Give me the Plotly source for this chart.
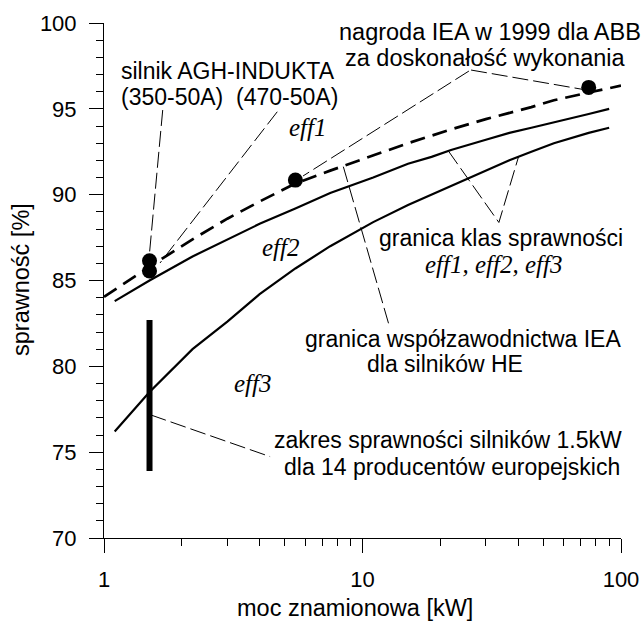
import plotly.graph_objects as go

# ---------------- data ----------------
power_kw = [1.1, 1.5, 2.2, 3, 4, 5.5, 7.5, 11, 15, 18.5, 22, 30, 37, 45, 55, 75, 90]
eff1_limit = [83.8, 85.0, 86.4, 87.4, 88.3, 89.2, 90.1, 91.0, 91.8, 92.2, 92.6, 93.2, 93.6, 93.9, 94.2, 94.7, 95.0]
eff2_limit = [76.2, 78.5, 81.0, 82.6, 84.2, 85.7, 87.0, 88.4, 89.4, 90.0, 90.5, 91.4, 92.0, 92.5, 93.0, 93.6, 93.9]

iea_power = [1, 1.5, 2.2, 3, 4, 5.5, 7.5, 11, 15, 22, 30, 45, 55, 75, 100]
iea_limit = [84.05, 85.8, 87.4, 88.6, 89.6, 90.65, 91.4, 92.3, 93.0, 93.8, 94.4, 95.1, 95.5, 95.95, 96.35]

award_power = [1.5, 1.5, 5.5, 75]
award_eff = [86.15, 85.55, 90.85, 96.25]

range_power = [1.5, 1.5]
range_eff = [73.9, 82.7]

x_ticks = [1, 10, 100]
y_ticks = [70, 75, 80, 85, 90, 95, 100]

# leader lines (from label to the point), data coordinates
leaders = [
    ([1.687, 1.5], [94.93, 86.6]),
    ([4.68, 1.647], [94.83, 86.02]),
    ([25.8, 5.89], [97.2, 91.09]),
    ([26.3, 71.3], [97.26, 96.13]),
    ([21.5, 33.7, 40.2], [92.54, 88.38, 92.24]),
    ([8.43, 12.66], [91.63, 82.41]),
    ([1.516, 4.39], [77.17, 74.74]),
]

SANS = "Arial, 'Liberation Sans', sans-serif"
SERIF = "'Times New Roman', 'Liberation Serif', serif"

fig = go.Figure()

for lx, ly in leaders:
    fig.add_trace(go.Scatter(x=lx, y=ly, mode="lines",
                             line=dict(color="black", width=1, dash="16px,5px"),
                             hoverinfo="skip", showlegend=False))

fig.add_trace(go.Scatter(x=power_kw, y=eff1_limit, mode="lines",
                         line=dict(color="black", width=2.2), showlegend=False))
fig.add_trace(go.Scatter(x=power_kw, y=eff2_limit, mode="lines",
                         line=dict(color="black", width=2.2), showlegend=False))
fig.add_trace(go.Scatter(x=iea_power, y=iea_limit, mode="lines",
                         line=dict(color="black", width=2.7, dash="15px,8px"), showlegend=False))
fig.add_trace(go.Scatter(x=range_power, y=range_eff, mode="lines",
                         line=dict(color="black", width=6), showlegend=False))
fig.add_trace(go.Scatter(x=award_power, y=award_eff, mode="markers",
                         marker=dict(color="black", size=15), showlegend=False))

# plot area in pixels
L, R, T, B = 104, 23, 23, 86
W, H = 644, 624
PW, PH = W - L - R, H - T - B


def px(xp):
    return (xp - L) / PW


def py(yp):
    return (H - B - yp) / PH


texts = [
    ("silnik AGH-INDUKTA", 119, 71, "left", SANS, 23),
    ("(350-50A)\u00a0\u00a0(470-50A)", 119, 97, "left", SANS, 23),
    ("nagroda IEA w 1999 dla ABB", 490, 32, "center", SANS, 23.5),
    ("za doskonałość wykonania", 485, 57.5, "center", SANS, 23.5),
    ("<i>eff1</i>", 307.5, 127, "center", SERIF, 25),
    ("<i>eff2</i>", 281, 247, "center", SERIF, 25),
    ("<i>eff3</i>", 252.5, 383, "center", SERIF, 25),
    ("granica klas sprawności", 500.8, 238, "center", SANS, 23),
    ("<i>eff1, eff2, eff3</i>", 493.3, 264, "center", SERIF, 25),
    ("granica współzawodnictwa IEA", 462.5, 339, "center", SANS, 23),
    ("dla silników HE", 445, 364, "center", SANS, 23),
    ("zakres sprawności silników 1.5kW", 448.3, 440, "center", SANS, 23),
    ("dla 14 producentów europejskich", 451.7, 467, "center", SANS, 23),
    ("moc znamionowa [kW]", 355, 608, "center", SANS, 23.5),
]
for t, xp, yp, anc, fam, sz in texts:
    fig.add_annotation(text=t, x=px(xp), y=py(yp), xref="paper", yref="paper",
                       xanchor=anc, yanchor="middle", showarrow=False,
                       font=dict(family=fam, size=sz, color="black"))

fig.add_annotation(text="sprawność [%]", x=px(21), y=py(280), xref="paper", yref="paper",
                   xanchor="center", yanchor="middle", showarrow=False, textangle=-90,
                   font=dict(family=SANS, size=23.5, color="black"))

fig.update_xaxes(type="log", range=[0, 2], showline=True, linecolor="black", linewidth=1,
                 tickmode="array", tickvals=x_ticks, ticktext=[str(v) for v in x_ticks],
                 ticks="outside", ticklen=14, tickwidth=1, tickcolor="black",
                 minor=dict(dtick="D1", ticks="outside", ticklen=7,
                            tickwidth=1, tickcolor="black", showgrid=False),
                 showgrid=False, zeroline=False, ticklabelstandoff=8,
                 tickfont=dict(family=SANS, size=22, color="black"))
fig.update_yaxes(range=[70, 100], showline=True, linecolor="black", linewidth=1,
                 tickmode="linear", tick0=70, dtick=5,
                 ticks="outside", ticklen=14, tickwidth=1, tickcolor="black",
                 minor=dict(dtick=1, tick0=70, ticks="outside", ticklen=7,
                            tickwidth=1, tickcolor="black", showgrid=False),
                 showgrid=False, zeroline=False, ticklabelstandoff=8,
                 tickfont=dict(family=SANS, size=22, color="black"))

fig.update_layout(width=W, height=H, margin=dict(l=L, r=R, t=T, b=B, autoexpand=False),
                  plot_bgcolor="white", paper_bgcolor="white", showlegend=False)

fig.write_html("out.html", config={"displayModeBar": False},
               post_script="document.body.style.margin='0';document.body.style.overflow='hidden';")
